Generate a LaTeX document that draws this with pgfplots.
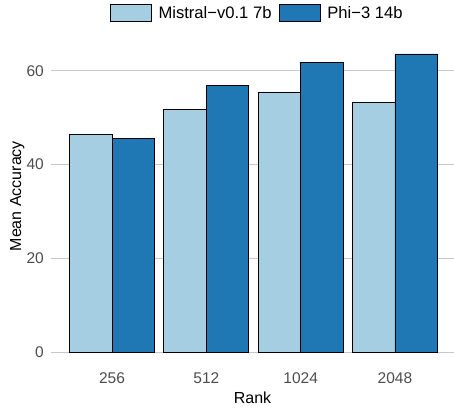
\documentclass[border=0pt]{standalone}
\usepackage{pgfplots}
\pgfplotsset{compat=1.18}
\usepackage{fontspec}
\setmainfont{Liberation Sans}
\definecolor{lightblue}{HTML}{A6CEE3}
\definecolor{darkblue}{HTML}{1F78B4}
\definecolor{tickgray}{HTML}{4D4D4D}
\definecolor{gridgray}{HTML}{C8C8C8}
\begin{document}
\begin{tikzpicture}
\begin{axis}[
    name=ax,
    at={(0,0)}, anchor=south west,
    width=403pt, height=328pt,
    scale only axis,
    ybar, bar width=0.45,
    xmin=-0.647, xmax=3.626,
    ymin=-3.18, ymax=66.8,
    xtick={0,1,2,3},
    xticklabels={256,512,1024,2048},
    ytick={0,20,40,60},
    axis line style={draw=none},
    major tick length=0pt,
    ymajorgrids,
    grid style={gridgray, line width=0.9pt},
    /pgf/number format/assume math mode=true,
    tick label style={font=\fontsize{15.5}{18}\selectfont, text=tickgray, inner sep=0pt},
    yticklabel shift=7pt,
    xticklabel shift=5pt,
    xlabel={Rank},
    ylabel={Mean Accuracy},
    label style={font=\fontsize{16}{19}\selectfont, inner sep=0pt},
    xlabel style={at={(axis description cs:0.5,0)}, anchor=north, yshift=-25pt},
    ylabel style={at={(axis description cs:0,0.521)}, anchor=north, yshift=41pt},
    legend style={at={(0.509,1.079)}, anchor=center, draw=none,
      font=\fontsize{16.6}{19}\selectfont, legend columns=-1,
      nodes={inner sep=0pt},
      /tikz/every odd column/.append style={column sep=7pt},
      /tikz/every even column/.append style={column sep=7pt}},
    legend image code/.code={\draw[#1, draw=black, line width=0.8pt] (0pt,-8.5pt) rectangle (41pt,8.5pt);},
]
\addplot[fill=lightblue, draw=black, line width=0.8pt, bar shift=-0.225]
  coordinates {(0,46.4) (1,51.7) (2,55.5) (3,53.3)};
\addplot[fill=darkblue, draw=black, line width=0.8pt, bar shift=0.225]
  coordinates {(0,45.6) (1,56.9) (2,61.8) (3,63.6)};
\legend{Mistral\textminus v0.1 7b, Phi\textminus 3 14b}
\end{axis}
\pgfresetboundingbox
\path[use as bounding box] ([shift={(-51pt,-42pt)}]ax.south west) rectangle ([shift={(0pt,39pt)}]ax.north east);
\end{tikzpicture}
\end{document}
